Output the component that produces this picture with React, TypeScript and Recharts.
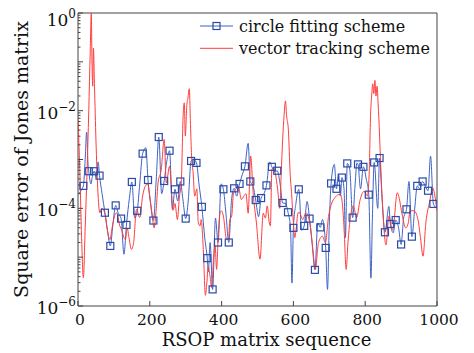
import React from 'react';
import { LineChart, Line, XAxis, YAxis, ReferenceArea, Legend } from 'recharts';

// ---- data (x position, log10 of square error) ----
const circleX = [
  0, 15, 20, 24, 28, 30, 36, 40, 45, 50, 56, 60, 67, 75, 82, 90, 97, 105, 112, 120,
  128, 135, 143, 150, 158, 165, 172, 180, 189, 195, 202, 210, 218, 225, 233, 240, 248, 255, 263, 270,
  278, 285, 292, 300, 307, 315, 322, 330, 337, 345, 353, 360, 363, 368, 375, 383, 390, 399, 405, 412,
  420, 428, 435, 442, 450, 458, 465, 474, 480, 488, 495, 503, 510, 518, 525, 534, 540, 548, 555, 563,
  570, 578, 585, 592, 596, 600, 607, 615, 623, 630, 638, 645, 652, 660, 668, 675, 681, 690, 695, 700,
  705, 714, 720, 726, 731, 735, 741, 745, 750, 757, 765, 772, 777, 780, 787, 795, 803, 810, 816, 820,
  825, 835, 840, 847, 855, 866, 870, 878, 885, 893, 900, 907, 915, 922, 930, 938, 945, 952, 960, 968,
  975, 982, 990, 1000,
];
const circleExp = [
  -3.7, -3.54, -3.0, -2.44, -3.1, -3.24, -3.5, -3.35, -3.24, -3.35, -3.05, -3.33, -3.7, -4.09, -4.45, -4.77, -4.35, -3.94, -4.1, -4.21,
  -4.94, -4.34, -3.8, -3.46, -4.2, -4.05, -3.5, -2.88, -2.76, -3.42, -3.9, -4.25, -3.4, -2.54, -3.7, -3.44, -3.0, -2.82, -4.02, -3.61,
  -3.85, -3.45, -3.8, -4.21, -3.85, -3.03, -3.0, -3.07, -3.5, -3.97, -4.6, -5.02, -5.3, -4.7, -5.66, -4.2, -4.7, -3.5, -3.61, -4.1,
  -4.7, -3.8, -3.59, -3.75, -3.5, -3.3, -3.14, -2.67, -3.45, -3.55, -3.83, -4.17, -3.79, -3.7, -3.53, -3.05, -3.15, -3.25, -3.23, -3.5,
  -3.89, -3.9, -4.08, -4.4, -5.53, -4.4, -3.9, -3.61, -4.45, -4.36, -3.86, -4.21, -4.7, -5.26, -4.3, -4.39, -4.23, -4.81, -5.66, -4.3,
  -3.49, -3.1, -3.6, -3.3, -3.75, -3.37, -3.6, -4.6, -3.08, -3.2, -4.19, -3.5, -3.07, -3.1, -3.6, -3.15, -3.4, -3.72, -5.43, -4.2,
  -3.06, -4.0, -2.97, -3.8, -4.49, -3.96, -4.32, -4.5, -4.24, -4.4, -4.74, -4.2, -4.02, -3.45, -4.58, -4.0, -3.54, -3.6, -3.45, -3.55,
  -3.64, -2.93, -3.91, -4.0,
];

const vectorX = [
  0, 5, 10, 15, 20, 25, 30, 34, 37, 39, 41, 43, 46, 50, 55, 61, 66, 70, 76, 82,
  89, 95, 102, 108, 116, 122, 128, 132, 137, 142, 149, 155, 163, 172, 180, 187, 194, 200, 206, 212,
  218, 223, 232, 240, 246, 255, 265, 270, 277, 282, 288, 293, 296, 299, 303, 306, 310, 313, 316, 321,
  325, 331, 335, 340, 343, 349, 355, 358, 363, 368, 372, 378, 382, 386, 391, 396, 400, 405, 414, 419,
  423, 428, 433, 440, 447, 455, 462, 468, 474, 481, 488, 497, 507, 516, 522, 527, 533, 536, 540, 544,
  550, 556, 562, 566, 570, 574, 578, 581, 586, 591, 595, 600, 604, 608, 613, 617, 626, 635, 647, 655,
  661, 670, 681, 689, 698, 707, 716, 725, 731, 737, 741, 747, 752, 758, 767, 776, 786, 797, 806, 811,
  815, 818, 821, 824, 827, 830, 833, 836, 840, 843, 850, 858, 866, 876, 880, 889, 895, 901, 913, 920,
  925, 936, 947, 954, 961, 969, 980, 988, 993, 1000,
];
const vectorExp = [
  -2.18, -3.2, -4.6, -5.42, -4.4, -3.3, -2.0, -0.8, 0.0, -1.0, -1.5, -0.72, -1.5, -2.6, -3.6, -4.09, -4.0, -4.02, -4.15, -4.45,
  -4.64, -4.4, -4.15, -4.09, -4.35, -4.45, -4.6, -4.64, -4.4, -4.6, -4.84, -4.7, -4.02, -4.19, -3.75, -3.55, -3.5, -3.75, -4.1, -4.4,
  -4.0, -3.48, -3.2, -2.59, -3.48, -3.14, -4.04, -3.9, -4.23, -3.8, -3.41, -2.08, -1.84, -2.52, -1.9, -1.75, -1.55, -2.2, -2.86, -3.3,
  -3.75, -3.6, -4.29, -4.36, -4.23, -4.84, -5.78, -5.6, -5.2, -5.4, -5.62, -4.98, -4.77, -5.25, -4.5, -4.09, -4.05, -4.16, -4.64, -4.64,
  -4.23, -4.16, -3.7, -3.6, -3.56, -3.82, -3.75, -3.7, -4.1, -2.93, -3.7, -4.3, -5.04, -4.1, -4.2, -3.95, -4.3, -4.36, -3.2, -3.17,
  -3.3, -3.6, -4.0, -3.3, -2.6, -2.1, -1.8, -2.1, -2.39, -3.3, -3.7, -4.3, -4.6, -4.4, -4.09, -4.09, -4.23, -4.09, -4.36, -4.9,
  -5.25, -4.7, -4.57, -4.7, -4.16, -3.89, -3.78, -3.72, -3.72, -3.95, -4.4, -5.25, -4.7, -4.23, -3.95, -4.19, -3.82, -3.65, -3.75, -3.3,
  -2.07, -1.7, -1.45, -1.65, -1.38, -1.7, -1.5, -1.85, -2.5, -3.1, -4.16, -4.75, -4.16, -4.45, -4.29, -3.68, -3.8, -4.05, -4.4, -4.3,
  -4.05, -4.05, -4.23, -4.6, -4.98, -4.29, -3.85, -3.58, -3.7, -4.05,
];

const markerStep = 15;
const xTicks = [0, 200, 400, 600, 800, 1000];
const yDecades = [-6, -5, -4, -3, -2, -1, 0];
const yMinorMultipliers = [2, 3, 4, 5, 6, 7, 8, 9];
const seriesNames = ['circle fitting scheme', 'vector tracking scheme'];

// ---- built tables ----
const circleData = circleX.map((x, i) => ({
  x,
  y: Math.pow(10, circleExp[i]),
  mark: x > 0 && x % markerStep === 0,
}));
const vectorData = vectorX.map((x, i) => ({ x, y: Math.pow(10, vectorExp[i]) }));

const yTicks: number[] = [];
yDecades.forEach((d) => {
  yTicks.push(Math.pow(10, d));
  if (d < 0) yMinorMultipliers.forEach((m) => yTicks.push(m * Math.pow(10, d)));
});

const BLUE = '#3f63c4';
const MARK = '#2a4ba8';
const RED = '#ff3d3d';
const AXIS = '#444';
const FONT = 'DejaVu Serif';

const YTick = (props: any) => {
  const { x, y, payload } = props;
  const v = payload.value;
  const e = Math.log10(v);
  const re = Math.round(e);
  const isDecade = Math.abs(e - re) < 1e-6;
  const labeled = isDecade && re % 2 === 0;
  const len = isDecade ? 5 : 2.5;
  const ty = Math.max(y + 8, 18);
  return (
    <g>
      <line x1={x} x2={x + len} y1={y} y2={y} stroke={AXIS} strokeWidth={1} />
      {labeled && (
        <text x={x - 2} y={ty} textAnchor="end" style={{ fontFamily: FONT }} fontSize={17} fill="#111">
          <tspan>10</tspan>
          <tspan dy={-8} fontSize={12}>{re === 0 ? '0' : '\u2212' + String(-re)}</tspan>
        </text>
      )}
    </g>
  );
};

const XTick = (props: any) => {
  const { x, y, payload } = props;
  return (
    <g>
      <line x1={x} x2={x} y1={y} y2={y - 5} stroke={AXIS} strokeWidth={1} />
      <text x={x + 2} y={y + 19} textAnchor="middle" style={{ fontFamily: FONT }} fontSize={15.5} fill="#111">
        {payload.value}
      </text>
    </g>
  );
};

const SquareDot = (props: any) => {
  const { cx, cy, payload, index } = props;
  if (!payload || !payload.mark || cx == null || cy == null) return <g key={'d' + index} />;
  return (
    <rect key={'d' + index} x={cx - 3.5} y={cy - 3.5} width={7} height={7} fill="none" stroke={MARK} strokeWidth={1.2} />
  );
};

const LegendContent = () => (
  <svg width={250} height={50} style={{ display: 'block' }}>
    <line x1={8} x2={41} y1={13} y2={13} stroke={BLUE} strokeWidth={1} />
    <rect x={21} y={9.5} width={7} height={7} fill="none" stroke={MARK} strokeWidth={1.2} />
    <text x={47} y={19} style={{ fontFamily: FONT }} fontSize={16} fill="#111">{seriesNames[0]}</text>
    <line x1={8} x2={41} y1={35.3} y2={35.3} stroke={RED} strokeWidth={1} />
    <text x={47} y={41} style={{ fontFamily: FONT }} fontSize={16} fill="#111">{seriesNames[1]}</text>
  </svg>
);

const YLabel = (props: any) => {
  const vb = props.viewBox || { x: 0, y: 5, width: 70, height: 293 };
  const cy = vb.y + vb.height / 2;
  return (
    <text transform={`translate(20, ${cy}) rotate(-90)`} textAnchor="middle" style={{ fontFamily: FONT }} fontSize={19} fill="#111">
      Square error of Jones matrix
    </text>
  );
};

const XLabel = (props: any) => {
  const vb = props.viewBox || { x: 70, y: 298, width: 359, height: 47 };
  return (
    <text x={vb.x + vb.width / 2 + 9} y={vb.y + 40} textAnchor="middle" style={{ fontFamily: FONT }} fontSize={18} fill="#111">
      RSOP matrix sequence
    </text>
  );
};

export default function App() {
  return (
    <LineChart width={466} height={345} margin={{ top: 5, right: 37, left: 0, bottom: 0 }}>
      <XAxis
        type="number"
        dataKey="x"
        domain={[0, 1000]}
        ticks={xTicks}
        interval={0}
        tickSize={0}
        tickMargin={0}
        tick={<XTick />}
        axisLine={false}
        tickLine={false}
        height={47}
        allowDataOverflow
        label={<XLabel />}
      />
      <YAxis
        type="number"
        dataKey="y"
        scale="log"
        domain={[1e-6, 1]}
        ticks={yTicks}
        interval={0}
        tickSize={0}
        tickMargin={0}
        tick={<YTick />}
        axisLine={false}
        tickLine={false}
        width={70}
        allowDataOverflow
        label={<YLabel />}
      />
      <ReferenceArea x1={0} x2={1000} y1={1e-6} y2={1} fill="none" fillOpacity={0} stroke={AXIS} strokeWidth={1} ifOverflow="visible" />
      <Line
        data={circleData}
        dataKey="y"
        name={seriesNames[0]}
        type="monotone"
        stroke={BLUE}
        strokeWidth={1}
        dot={SquareDot}
        activeDot={false}
        isAnimationActive={false}
      />
      <Line
        data={vectorData}
        dataKey="y"
        name={seriesNames[1]}
        type="monotone"
        stroke={RED}
        strokeWidth={1}
        dot={false}
        activeDot={false}
        isAnimationActive={false}
      />
      <Legend
        layout="vertical"
        align="center"
        verticalAlign="middle"
        content={<LegendContent />}
        wrapperStyle={{ position: 'absolute', left: 184, top: 5, width: 250, height: 50 }}
      />
    </LineChart>
  );
}
